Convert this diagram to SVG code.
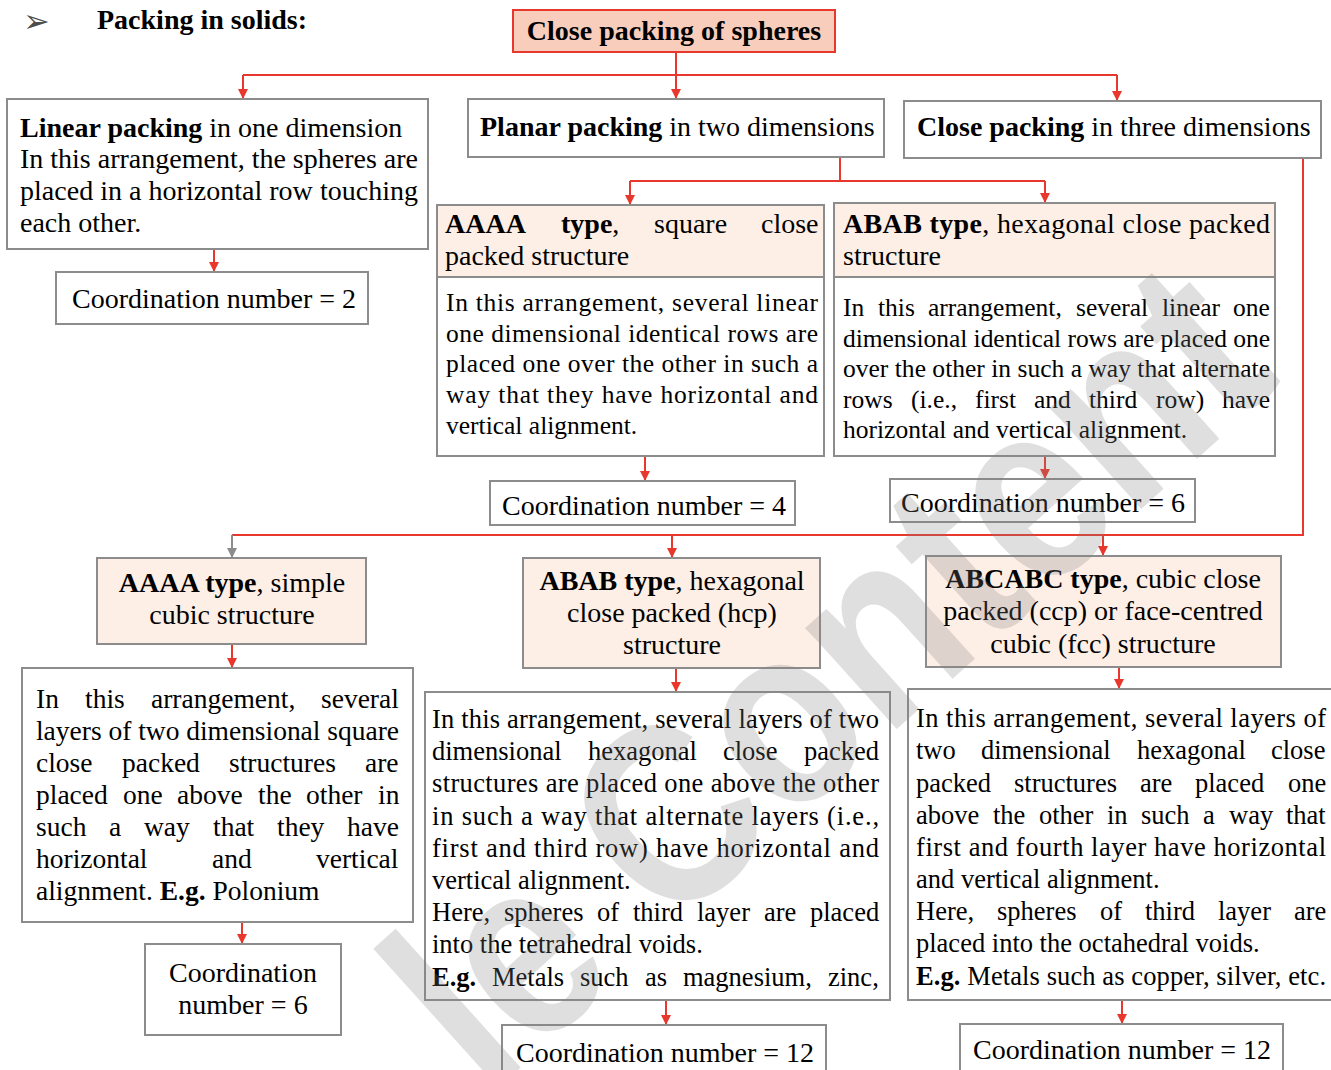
<svg xmlns="http://www.w3.org/2000/svg" width="1331" height="1070" viewBox="0 0 1331 1070">
<defs>
<style>
.box{fill:#ffffff;stroke:#8c8c8c;stroke-width:2}
.peach{fill:#fdeee6;stroke:#8c8c8c;stroke-width:2}
.root{fill:#f9cdbb;stroke:#e8382e;stroke-width:2}
.t{font-family:"Liberation Serif","Times New Roman",serif;font-size:28px;fill:#000}
.s25{font-size:25.5px}
.s26{font-size:26.5px}
.s27{font-size:27.5px}
.b{font-weight:bold}
.c{text-anchor:middle}
.conn{fill:none;stroke:#e8382e;stroke-width:2}
.connG{fill:none;stroke:#8c8c8c;stroke-width:2}
.wm{font-family:"Liberation Sans",Arial,sans-serif;font-weight:bold;font-size:258px;fill:#808080;fill-opacity:0.25}
</style>
<marker id="ar" markerUnits="userSpaceOnUse" markerWidth="10" markerHeight="10" viewBox="0 0 10 10" refX="10" refY="5" orient="auto"><path d="M0,0 L10,5 L0,10 z" fill="#e8382e"/></marker>
<marker id="ag" markerUnits="userSpaceOnUse" markerWidth="10" markerHeight="10" viewBox="0 0 10 10" refX="10" refY="5" orient="auto"><path d="M0,0 L10,5 L0,10 z" fill="#8c8c8c"/></marker>
</defs>
<rect width="1331" height="1070" fill="#ffffff"/>

<g id="title">
<text x="23" y="32" font-family="DejaVu Sans, sans-serif" font-size="32" fill="#4d4d4d">➢</text>
<text class="t b" x="97" y="29">Packing in solids:</text>
</g>

<g id="connectors">
<path class="conn" d="M676,52 V75 M243,75 H1117"/>
<path class="conn" d="M243,75 V99" marker-end="url(#ar)"/>
<path class="conn" d="M676,75 V99" marker-end="url(#ar)"/>
<path class="conn" d="M1117,75 V101" marker-end="url(#ar)"/>
<path class="conn" d="M214,249 V272" marker-end="url(#ar)"/>
<path class="conn" d="M840,157 V181 M630,181 H1045"/>
<path class="conn" d="M630,181 V205" marker-end="url(#ar)"/>
<path class="conn" d="M1045,181 V203" marker-end="url(#ar)"/>
<path class="conn" d="M645,456 V481" marker-end="url(#ar)"/>
<path class="conn" d="M1045,456 V479" marker-end="url(#ar)"/>
<path class="conn" d="M1303,158 V535 H232"/>
<path class="connG" d="M232,535 V558" marker-end="url(#ag)"/>
<path class="conn" d="M672,535 V558" marker-end="url(#ar)"/>
<path class="conn" d="M1103,535 V556" marker-end="url(#ar)"/>
<path class="conn" d="M232,644 V668" marker-end="url(#ar)"/>
<path class="conn" d="M242,922 V944" marker-end="url(#ar)"/>
<path class="conn" d="M676,668 V692" marker-end="url(#ar)"/>
<path class="conn" d="M666,1000 V1025" marker-end="url(#ar)"/>
<path class="conn" d="M1119,667 V689" marker-end="url(#ar)"/>
<path class="conn" d="M1122,1000 V1024" marker-end="url(#ar)"/>
</g>

<g id="root">
<rect class="root" x="513" y="10" width="322" height="42"/>
<text class="t b c" x="674" y="40">Close packing of spheres</text>
</g>

<g id="linear">
<rect class="box" x="7" y="99" width="421" height="150"/>
<text class="t" x="20" y="137"><tspan class="b">Linear packing</tspan> in one dimension</text>
<text class="t" x="20" y="168" textLength="398" lengthAdjust="spacing">In this arrangement, the spheres are</text>
<text class="t" x="20" y="200" textLength="398" lengthAdjust="spacing">placed in a horizontal row touching</text>
<text class="t" x="20" y="232">each other.</text>
</g>

<g id="cn2">
<rect class="box" x="56" y="272" width="312" height="52"/>
<text class="t" x="72" y="308">Coordination number = 2</text>
</g>

<g id="planar">
<rect class="box" x="468" y="99" width="416" height="58"/>
<text class="t" x="480" y="136"><tspan class="b">Planar packing</tspan> in two dimensions</text>
</g>

<g id="close3d">
<rect class="box" x="904" y="101" width="417" height="57"/>
<text class="t" x="917" y="136"><tspan class="b">Close packing</tspan> in three dimensions</text>
</g>

<g id="aaaa2d">
<rect class="peach" x="437" y="205" width="387" height="72"/>
<rect class="box" x="437" y="277" width="387" height="179"/>
<text class="t" y="233"><tspan class="b" x="445">AAAA</tspan><tspan class="b" x="561">type</tspan>,<tspan x="654">square</tspan><tspan x="761">close</tspan></text>
<text class="t" x="445" y="265">packed structure</text>
<text class="t s25" x="446" y="311" textLength="372" lengthAdjust="spacing">In this arrangement, several linear</text>
<text class="t s25" x="446" y="342" textLength="372" lengthAdjust="spacing">one dimensional identical rows are</text>
<text class="t s25" x="446" y="372" textLength="372" lengthAdjust="spacing">placed one over the other in such a</text>
<text class="t s25" x="446" y="403" textLength="372" lengthAdjust="spacing">way that they have horizontal and</text>
<text class="t s25" x="446" y="434">vertical alignment.</text>
</g>

<g id="abab2d">
<rect class="peach" x="834" y="203" width="441" height="74"/>
<rect class="box" x="834" y="277" width="441" height="179"/>
<text class="t" x="843" y="233" textLength="427" lengthAdjust="spacing"><tspan class="b">ABAB type</tspan>, hexagonal close packed</text>
<text class="t" x="843" y="265">structure</text>
<text class="t s25" y="316"><tspan x="843">In</tspan><tspan x="878">this</tspan><tspan x="928">arrangement,</tspan><tspan x="1076">several</tspan><tspan x="1162">linear</tspan><tspan x="1233">one</tspan></text>
<text class="t s25" x="843" y="347" textLength="427" lengthAdjust="spacing">dimensional identical rows are placed one</text>
<text class="t s25" x="843" y="377" textLength="427" lengthAdjust="spacing">over the other in such a way that alternate</text>
<text class="t s25" y="408"><tspan x="843">rows</tspan><tspan x="911">(i.e.,</tspan><tspan x="975">first</tspan><tspan x="1034">and</tspan><tspan x="1089">third</tspan><tspan x="1156">row)</tspan><tspan x="1222">have</tspan></text>
<text class="t s25" x="843" y="438">horizontal and vertical alignment.</text>
</g>

<g id="cn4">
<rect class="box" x="490" y="481" width="305" height="44"/>
<text class="t" x="502" y="515">Coordination number = 4</text>
</g>

<g id="cn6a">
<rect class="box" x="890" y="479" width="305" height="43"/>
<text class="t" x="901" y="512">Coordination number = 6</text>
</g>

<g id="aaaa3d">
<rect class="peach" x="97" y="558" width="269" height="86"/>
<text class="t c" x="232" y="592"><tspan class="b">AAAA type</tspan>, simple</text>
<text class="t c" x="232" y="624">cubic structure</text>
</g>

<g id="aaaa3d-body">
<rect class="box" x="22" y="668" width="391" height="254"/>
<text class="t s27" y="708"><tspan x="36">In</tspan><tspan x="85">this</tspan><tspan x="151">arrangement,</tspan><tspan x="321">several</tspan></text>
<text class="t s27" x="36" y="740" textLength="363" lengthAdjust="spacing">layers of two dimensional square</text>
<text class="t s27" y="772"><tspan x="36">close</tspan><tspan x="122">packed</tspan><tspan x="229">structures</tspan><tspan x="365">are</tspan></text>
<text class="t s27" y="804"><tspan x="36">placed</tspan><tspan x="123">one</tspan><tspan x="177">above</tspan><tspan x="258">the</tspan><tspan x="306">other</tspan><tspan x="378">in</tspan></text>
<text class="t s27" y="836"><tspan x="36">such</tspan><tspan x="109">a</tspan><tspan x="144">way</tspan><tspan x="213">that</tspan><tspan x="277">they</tspan><tspan x="347">have</tspan></text>
<text class="t s27" y="868"><tspan x="36">horizontal</tspan><tspan x="212">and</tspan><tspan x="316">vertical</tspan></text>
<text class="t s27" x="36" y="900">alignment. <tspan class="b">E.g.</tspan> Polonium</text>
</g>

<g id="cn6b">
<rect class="box" x="145" y="944" width="196" height="91"/>
<text class="t c" x="243" y="982">Coordination</text>
<text class="t c" x="243" y="1014">number = 6</text>
</g>

<g id="hcp">
<rect class="peach" x="523" y="558" width="297" height="110"/>
<text class="t c" x="672" y="590"><tspan class="b">ABAB type</tspan>, hexagonal</text>
<text class="t c" x="672" y="622">close packed (hcp)</text>
<text class="t c" x="672" y="654">structure</text>
</g>

<g id="hcp-body">
<rect class="box" x="425" y="692" width="465" height="308"/>
<text class="t s26" x="432" y="728" textLength="447" lengthAdjust="spacing">In this arrangement, several layers of two</text>
<text class="t s26" y="760"><tspan x="432">dimensional</tspan><tspan x="588">hexagonal</tspan><tspan x="723">close</tspan><tspan x="804">packed</tspan></text>
<text class="t s26" x="432" y="792" textLength="447" lengthAdjust="spacing">structures are placed one above the other</text>
<text class="t s26" x="432" y="825" textLength="447" lengthAdjust="spacing">in such a way that alternate layers (i.e.,</text>
<text class="t s26" x="432" y="857" textLength="447" lengthAdjust="spacing">first and third row) have horizontal and</text>
<text class="t s26" x="432" y="889">vertical alignment.</text>
<text class="t s26" y="921"><tspan x="432">Here,</tspan><tspan x="504">spheres</tspan><tspan x="597">of</tspan><tspan x="633">third</tspan><tspan x="697">layer</tspan><tspan x="764">are</tspan><tspan x="810">placed</tspan></text>
<text class="t s26" x="432" y="953">into the tetrahedral voids.</text>
<text class="t s26" y="986"><tspan class="b" x="432">E.g.</tspan><tspan x="492">Metals</tspan><tspan x="580">such</tspan><tspan x="645">as</tspan><tspan x="683">magnesium,</tspan><tspan x="828">zinc,</tspan></text>
</g>

<g id="cn12a">
<rect class="box" x="502" y="1025" width="324" height="55"/>
<text class="t" x="516" y="1062">Coordination number = 12</text>
</g>

<g id="ccp">
<rect class="peach" x="926" y="556" width="355" height="111"/>
<text class="t c" x="1103" y="588"><tspan class="b">ABCABC type</tspan>, cubic close</text>
<text class="t c" x="1103" y="620">packed (ccp) or face-centred</text>
<text class="t c" x="1103" y="653">cubic (fcc) structure</text>
</g>

<g id="ccp-body">
<rect class="box" x="908" y="689" width="430" height="311"/>
<text class="t s26" x="916" y="727" textLength="410" lengthAdjust="spacing">In this arrangement, several layers of</text>
<text class="t s26" y="759"><tspan x="916">two</tspan><tspan x="981">dimensional</tspan><tspan x="1137">hexagonal</tspan><tspan x="1271">close</tspan></text>
<text class="t s26" y="792"><tspan x="916">packed</tspan><tspan x="1014">structures</tspan><tspan x="1140">are</tspan><tspan x="1195">placed</tspan><tspan x="1288">one</tspan></text>
<text class="t s26" y="824"><tspan x="916">above</tspan><tspan x="993">the</tspan><tspan x="1039">other</tspan><tspan x="1107">in</tspan><tspan x="1141">such</tspan><tspan x="1203">a</tspan><tspan x="1229">way</tspan><tspan x="1286">that</tspan></text>
<text class="t s26" x="916" y="856" textLength="410" lengthAdjust="spacing">first and fourth layer have horizontal</text>
<text class="t s26" x="916" y="888">and vertical alignment.</text>
<text class="t s26" y="920"><tspan x="916">Here,</tspan><tspan x="997">spheres</tspan><tspan x="1100">of</tspan><tspan x="1145">third</tspan><tspan x="1218">layer</tspan><tspan x="1294">are</tspan></text>
<text class="t s26" x="916" y="952">placed into the octahedral voids.</text>
<text class="t s26" x="916" y="985" textLength="410" lengthAdjust="spacing"><tspan class="b">E.g.</tspan> Metals such as copper, silver, etc.</text>
</g>

<g id="cn12b">
<rect class="box" x="960" y="1024" width="323" height="55"/>
<text class="t" x="973" y="1059">Coordination number = 12</text>
</g>

<g id="watermark">
<text class="wm" transform="translate(487,1098) rotate(-42) scale(0.85,1)">le Content</text>
</g>
</svg>
